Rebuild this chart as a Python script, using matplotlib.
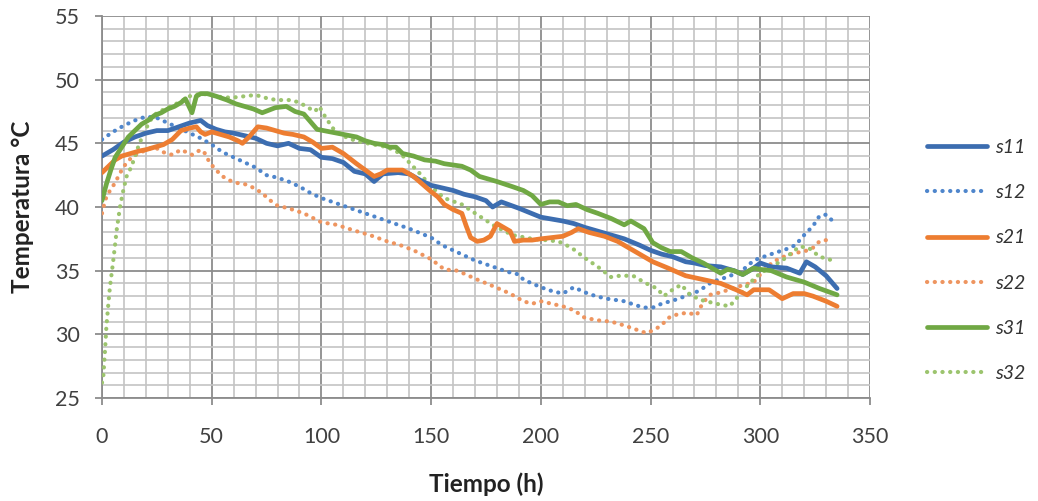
import matplotlib
matplotlib.use("Agg")
import matplotlib.pyplot as plt
import numpy as np
from matplotlib.lines import Line2D

plt.rcParams['font.family'] = ['Lato', 'DejaVu Sans']

# ---------------- data ----------------
s11_x = [0,5,10,15,20,25,30,35,40,45,48,52,56,60,65,70,75,80,85,90,95,100,105,110,115,120,124,128,135,140,145,150,155,160,165,170,175,178,182,190,200,210,215,220,230,238,245,250,255,260,266,270,275,282,288,292,297,300,305,312,318,321,325,330,335]
s11_y = [44.0,44.5,45.1,45.5,45.8,46.0,46.0,46.3,46.6,46.8,46.4,46.1,45.9,45.8,45.6,45.4,45.0,44.8,45.0,44.6,44.5,43.9,43.8,43.5,42.8,42.6,42.0,42.6,42.7,42.6,42.1,41.7,41.5,41.3,41.0,40.8,40.5,40.0,40.4,39.9,39.2,38.9,38.7,38.4,37.9,37.5,37.0,36.6,36.3,36.1,35.7,35.6,35.4,35.3,35.0,34.7,35.2,35.6,35.3,35.2,34.8,35.7,35.3,34.6,33.6]

s12_x = [0,5,10,15,20,25,30,35,40,45,50,55,60,65,70,75,80,85,90,95,100,110,120,130,140,150,155,160,165,170,175,180,185,190,192,200,205,210,215,220,225,230,238,243,247,251,255,259,263,267,272,277,281,285,289,293,297,300,305,312,316,320,324,327,330,333]
s12_y = [45.3,45.9,46.4,46.8,47.1,47.0,46.6,46.2,45.8,45.4,44.9,44.3,43.9,43.5,43.1,42.5,42.3,42.0,41.6,41.1,40.7,40.1,39.5,38.9,38.3,37.6,37.0,36.6,36.2,35.8,35.5,35.2,34.9,34.7,34.3,33.7,33.4,33.2,33.7,33.3,33.0,32.8,32.6,32.3,32.1,32.1,32.4,32.6,32.8,33.1,33.4,34.0,34.3,34.5,34.8,35.2,35.8,36.0,36.3,36.7,37.0,37.8,38.5,39.3,39.4,38.9]

s21_x = [0,3,6,9,13,17,20,24,28,32,36,40,43,45,47,50,54,58,62,64,67,71,75,79,83,87,92,96,100,105,110,116,120,124,127,130,134,137,140,142,146,150,153,156,160,164,166,168,171,174,177,180,183,186,188,192,196,200,205,210,214,217,222,229,235,240,245,251,258,266,274,282,289,294,297,304,310,315,320,324,330,335]
s21_y = [42.7,43.2,43.7,44.0,44.2,44.4,44.5,44.7,44.9,45.3,46.0,46.2,46.3,45.9,45.7,45.9,45.7,45.5,45.2,45.0,45.5,46.3,46.2,46.0,45.8,45.7,45.5,45.1,44.6,44.7,44.2,43.4,42.9,42.4,42.6,42.9,42.9,42.9,42.6,42.4,41.8,41.2,40.8,40.2,39.8,39.5,38.5,37.6,37.3,37.4,37.7,38.7,38.4,38.1,37.3,37.4,37.4,37.5,37.6,37.7,38.0,38.3,38.0,37.7,37.3,36.8,36.3,35.7,35.2,34.6,34.3,34.0,33.5,33.1,33.5,33.5,32.8,33.2,33.2,33.0,32.6,32.2]

s22_x = [0,1,2,4,6,8,10,12,14,17,20,24,28,32,36,41,45,47,49,52,55,58,61,65,68,73,76,80,85,92,100,107,114,122,130,136,142,150,156,162,171,178,186,192,196,200,205,210,215,220,226,232,238,243,248,251,254,256,259,263,267,271,273,275,277,282,289,293,297,300,303,307,312,316,320,324,327,330,333]
s22_y = [39.5,40.2,40.8,41.4,41.9,42.6,43.2,43.6,44.0,44.2,44.5,44.7,44.3,44.1,44.5,44.1,44.5,44.2,43.5,42.9,42.4,42.1,41.9,41.8,41.6,41.1,40.6,40.1,39.9,39.5,38.8,38.6,38.2,37.8,37.3,37.0,36.6,35.9,35.1,35.0,34.3,33.8,33.2,32.6,32.4,32.6,32.4,32.2,31.9,31.3,31.1,31.0,30.7,30.4,30.1,30.3,30.6,30.9,31.4,31.6,31.7,31.5,32.2,32.7,33.1,33.3,33.7,33.9,34.1,34.7,35.3,35.8,36.2,36.4,36.5,36.8,37.3,37.4,37.5]

s31_x = [0,2,4,6,9,12,15,18,21,24,27,30,33,36,38,41,43,45,48,52,57,61,65,69,73,76,79,84,88,92,95,98,101,104,110,116,120,124,128,131,134,137,142,147,152,156,160,164,168,172,176,180,187,192,196,200,204,208,212,216,221,226,232,238,241,244,247,251,255,259,264,269,274,278,282,285,288,292,297,300,305,312,320,327,335]
s31_y = [40.5,41.8,42.9,43.9,44.7,45.5,46.0,46.5,46.8,47.2,47.4,47.7,47.9,48.2,48.5,47.4,48.7,48.9,48.9,48.7,48.4,48.1,47.9,47.7,47.4,47.6,47.8,47.9,47.5,47.3,46.7,46.1,46.0,45.9,45.7,45.5,45.2,45.0,44.9,44.7,44.7,44.2,44.0,43.7,43.6,43.4,43.3,43.2,42.9,42.4,42.2,42.0,41.6,41.3,40.9,40.2,40.4,40.4,40.1,40.2,39.8,39.5,39.1,38.6,38.9,38.6,38.3,37.2,36.8,36.5,36.5,36.0,35.6,35.2,34.8,35.1,35.0,34.7,35.2,35.1,35.0,34.5,34.1,33.6,33.1]

s32_x = [0,0.6,1.4,2,2.9,3.6,5,6,6.7,8.2,9.7,11.2,13.5,16,19,22,25,30,35,40,45,50,55,60,65,70,76,80,86,90,93,97,99,102,106,112,118,124,130,136,140,145,150,156,164,171,179,187,196,202,208,214,220,226,232,236,242,248,253,256,260,264,268,273,280,286,290,295,300,305,310,315,318,322,327,333]
s32_y = [26.2,26.7,28.8,30.6,32.4,33.7,35.6,37.1,38.2,40.0,41.3,42.4,43.2,44.5,45.8,46.8,47.4,47.8,48.2,48.7,48.9,48.8,48.6,48.6,48.7,48.8,48.5,48.4,48.4,48.2,47.9,47.5,47.9,47.0,46.0,45.4,45.1,44.9,44.7,44.2,43.5,42.6,41.6,40.7,40.2,39.4,38.5,37.8,37.5,37.4,37.3,36.8,36.0,35.3,34.5,34.6,34.6,34.0,33.6,33.0,33.5,33.9,33.1,32.7,32.4,32.2,33.0,34.0,34.8,35.3,35.8,36.5,36.9,36.8,36.1,35.8]

labels = ['s11', 's12', 's21', 's22', 's31', 's32']
x_ticks = [0, 50, 100, 150, 200, 250, 300, 350]
y_ticks = [25, 30, 35, 40, 45, 50, 55]

# ---------------- style ----------------
c_blue, c_blue2 = '#3C6DB0', '#4F86CC'
c_orange, c_orange2 = '#ED7D31', '#EE9560'
c_green, c_green2 = '#70A844', '#9CC46E'

fig = plt.figure(figsize=(10.38, 5.01), dpi=100)
ax = fig.add_axes([102/1038, 103/501, 768/1038, 382/501])

solid_kw = dict(linewidth=3.4, solid_joinstyle='round', solid_capstyle='round')
dot_kw = dict(linewidth=3.0, linestyle=(0, (0.05, 1.8)), dash_capstyle='round')

ax.plot(s11_x, s11_y, color=c_blue, zorder=5, **solid_kw)
ax.plot(s12_x, s12_y, color=c_blue2, zorder=4, **dot_kw)
ax.plot(s21_x, s21_y, color=c_orange, zorder=5, **solid_kw)
ax.plot(s22_x, s22_y, color=c_orange2, zorder=4, **dot_kw)
ax.plot(s31_x, s31_y, color=c_green, zorder=5, **solid_kw)
ax.plot(s32_x, s32_y, color=c_green2, zorder=4, **dot_kw)

ax.set_xlim(0, 350)
ax.set_ylim(25, 55)
ax.set_xticks(x_ticks)
ax.set_yticks(y_ticks)
ax.set_xticks(np.arange(0, 351, 10), minor=True)
ax.set_yticks(np.arange(25, 56, 1), minor=True)
ax.grid(which='major', color='#8c8c8c', linewidth=1.3, zorder=0)
ax.grid(which='minor', color='#c4c4c4', linewidth=1.2, zorder=0)
ax.set_axisbelow(True)
for s in ['top', 'right']:
    ax.spines[s].set_visible(False)
ax.spines['left'].set_color('#8c8c8c')
ax.spines['bottom'].set_color('#8c8c8c')
ax.spines['left'].set_linewidth(1.3)
ax.spines['bottom'].set_linewidth(1.3)
ax.tick_params(which='major', direction='out', length=5, width=1.3, color='#8c8c8c',
               labelsize=15.5, labelcolor='#404040')
ax.tick_params(which='minor', length=0)
ax.tick_params(axis='x', pad=16)
ax.tick_params(axis='y', pad=11)

ax.set_xlabel('Tiempo (h)', fontsize=17.5, fontweight='bold', color='#222222', labelpad=18)
ax.set_ylabel('Temperatura °C', fontsize=17.5, fontweight='bold', color='#222222', labelpad=15)

handles = [
    Line2D([], [], color=c_blue, **solid_kw),
    Line2D([], [], color=c_blue2, **dot_kw),
    Line2D([], [], color=c_orange, **solid_kw),
    Line2D([], [], color=c_orange2, **dot_kw),
    Line2D([], [], color=c_green, **solid_kw),
    Line2D([], [], color=c_green2, **dot_kw),
]
leg = fig.legend(handles, labels, loc='center left', bbox_to_anchor=(0.876, 0.48),
                 frameon=False, handlelength=3.1, handletextpad=0.4,
                 labelspacing=1.45, prop={'size': 14, 'style': 'italic'})
for t in leg.get_texts():
    t.set_color('#333333')

fig.savefig('out.png', dpi=100)
